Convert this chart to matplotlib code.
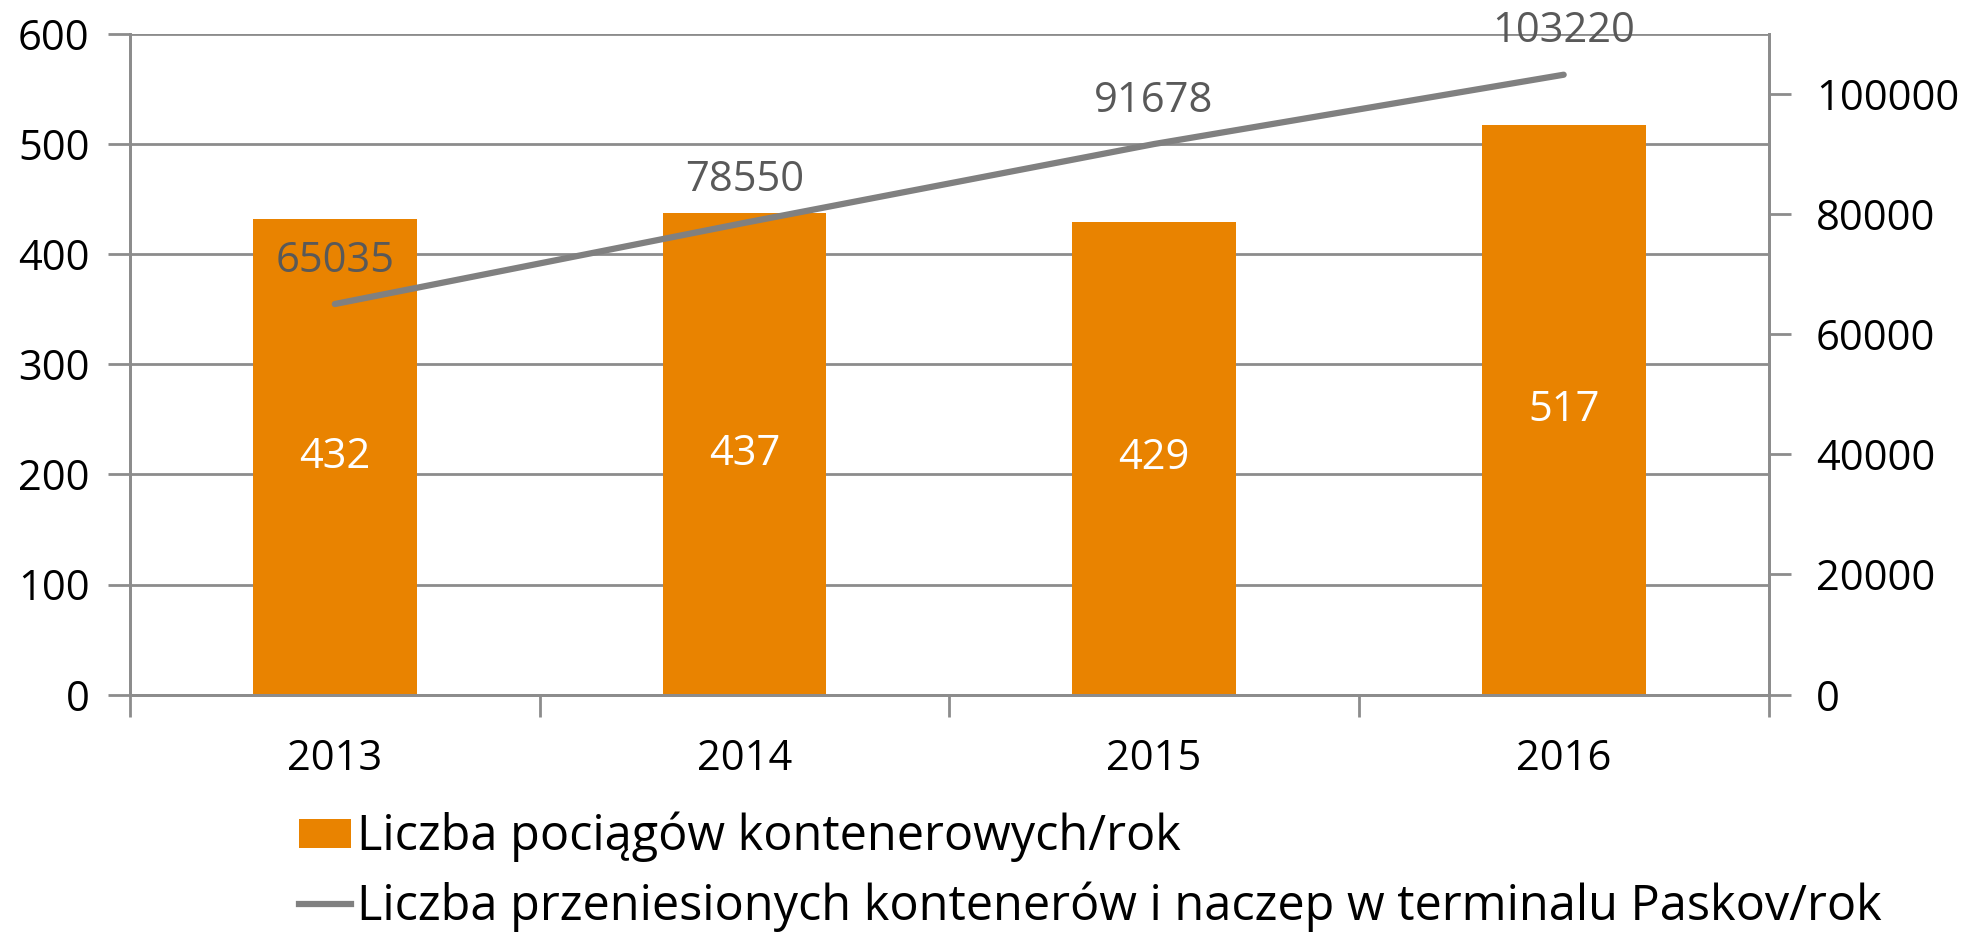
import numpy as np
import matplotlib.pyplot as plt
from matplotlib.patches import Patch
from matplotlib.lines import Line2D

years = ["2013", "2014", "2015", "2016"]
trains = [432, 437, 429, 517]
containers = [65035, 78550, 91678, 103220]

bar_label = "Liczba pociągów kontenerowych/rok"
line_label = "Liczba przeniesionych kontenerów i naczep w terminalu Paskov/rok"

orange = "#E98300"
gray_line = "#808080"
grid_col = "#8C8C8C"

plt.rcParams['font.family'] = ['Open Sans', 'DejaVu Sans']

fig = plt.figure(figsize=(19.8, 9.34), dpi=100)
ax = fig.add_axes([130 / 1980, 1 - 694.6 / 934, (1768.5 - 130) / 1980, (694.6 - 34) / 934])
ax2 = ax.twinx()

x = np.arange(len(years))
ax.bar(x, trains, width=0.4, color=orange, zorder=2)
ax.set_xlim(-0.5, 3.5)
ax.set_ylim(0, 600)
ax.set_yticks(range(0, 601, 100))
ax.grid(axis='y', color=grid_col, linewidth=2, zorder=0)
ax.set_axisbelow(True)

for xi, v in zip(x, trains):
    ax.text(xi, v / 2, str(v), ha='center', va='center', color='white', fontsize=30)

ax2.plot(x, containers, color=gray_line, linewidth=4.5, solid_capstyle='round', zorder=3)
ax2.set_ylim(0, 110000)
ax2.set_yticks(range(0, 100001, 20000))
for xi, v in zip(x, containers):
    ax2.text(xi, v + 7200, str(v), ha='center', va='center', color='#595959', fontsize=30)

# x axis: ticks on category boundaries, labels centred
ax.set_xticks(np.arange(-0.5, 3.6, 1.0))
ax.set_xticklabels([])
ax.set_xticks(x, minor=True)
ax.set_xticklabels(years, minor=True)
ax.tick_params(axis='x', which='major', length=16, width=2, color=grid_col, direction='out')
ax.tick_params(axis='x', which='minor', length=0, pad=31, labelsize=30)
ax.tick_params(axis='y', length=16, width=2, color=grid_col, labelsize=30, pad=13)
ax2.tick_params(axis='y', length=16, width=2, color=grid_col, labelsize=30, pad=18)

for a in (ax, ax2):
    a.spines['top'].set_visible(False)
    for s in ('left', 'right', 'bottom'):
        a.spines[s].set_color(grid_col)
        a.spines[s].set_linewidth(2)

handles = [Patch(facecolor=orange, edgecolor='none'),
           Line2D([0], [0], color=gray_line, linewidth=4.5)]
fig.legend(handles, [bar_label, line_label], loc='upper left',
           bbox_to_anchor=(299 / 1980, 1 - 812 / 934), frameon=False,
           fontsize=35, handlelength=1.07, handleheight=0.56, handletextpad=0.12,
           labelspacing=0.4, borderpad=0, borderaxespad=0)

fig.savefig("out.png", dpi=100)
